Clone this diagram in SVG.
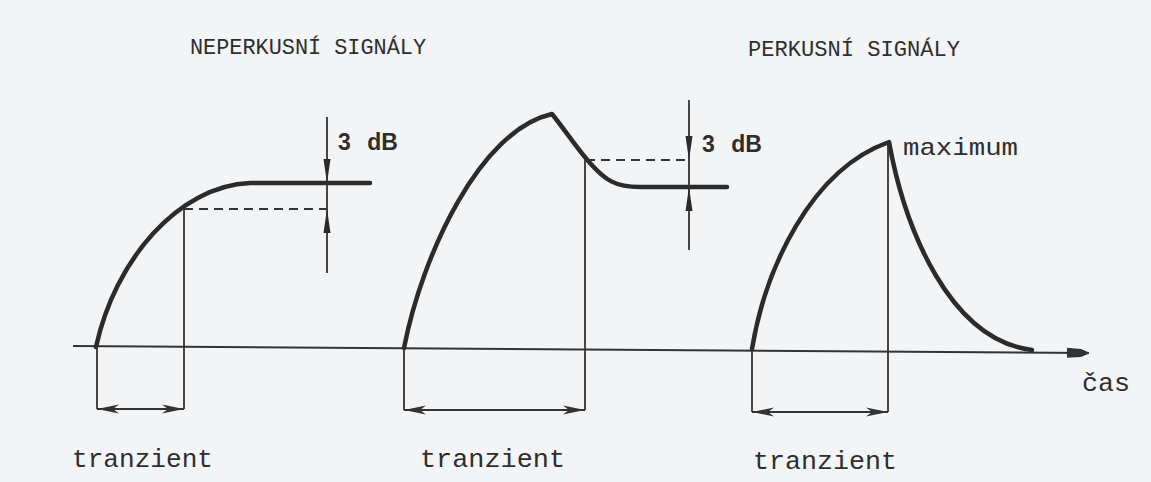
<svg xmlns="http://www.w3.org/2000/svg" width="1151" height="482" viewBox="0 0 1151 482">
<defs>
<style>
.mono{font-family:"Liberation Mono","DejaVu Sans Mono",monospace;fill:#2e2e2e}
.sans{font-family:"Liberation Sans",Arial,sans-serif;fill:#2e2e2e;font-weight:bold}
.curve{fill:none;stroke:#2b2b2b;stroke-width:4.5;stroke-linecap:round;stroke-linejoin:round}
.thin{fill:none;stroke:#333;stroke-width:1.8}
.dash{fill:none;stroke:#333;stroke-width:2;stroke-dasharray:9 6}
.dim{fill:none;stroke:#333;stroke-width:2}
</style>
<marker id="dimArrow" viewBox="0 -5 22 10" refX="22" refY="0" markerWidth="22" markerHeight="10" markerUnits="userSpaceOnUse" orient="auto-start-reverse">
<path d="M22,0 L0,-4.5 L6,0 L0,4.5 z" fill="#333"/>
</marker>
<marker id="axisArrow" viewBox="0 -6 22 12" refX="22" refY="0" markerWidth="22" markerHeight="12" markerUnits="userSpaceOnUse" orient="auto">
<path d="M0,-5 L14,-4 Q22,-1 22,0 Q22,1 14,4 L0,5 z" fill="#333"/>
</marker>
<marker id="dbArrow" viewBox="0 -4 24 8" refX="24" refY="0" markerWidth="24" markerHeight="8" markerUnits="userSpaceOnUse" orient="auto">
<path d="M0,-3.5 L24,0 L0,3.5 z" fill="#2b2b2b"/>
</marker>
</defs>
<rect width="1151" height="482" fill="#f3f4f5"/>

<g id="titles">
<text class="mono" x="190" y="54" font-size="22" textLength="236" lengthAdjust="spacingAndGlyphs">NEPERKUSNÍ SIGNÁLY</text>
<text class="mono" x="748" y="56" font-size="22" textLength="212" lengthAdjust="spacingAndGlyphs">PERKUSNÍ SIGNÁLY</text>
</g>

<g id="axis">
<line x1="73" y1="346" x2="1089" y2="353" stroke="#333" stroke-width="2.2" marker-end="url(#axisArrow)"/>
<text class="mono" x="1082" y="391" font-size="25" textLength="48" lengthAdjust="spacingAndGlyphs">čas</text>
</g>

<g id="signal-nonpercussive-1">
<path class="curve" d="M96,347 C115,260 178,186 250,183 H370"/>
<line class="dash" x1="184" y1="209" x2="327" y2="209"/>
<line class="thin" x1="327" y1="117" x2="327" y2="273"/>
<line x1="327" y1="155" x2="327" y2="183" stroke="none" marker-end="url(#dbArrow)"/>
<line x1="327" y1="237" x2="327" y2="209" stroke="none" marker-end="url(#dbArrow)"/>
<text class="sans" x="338" y="150" font-size="23" word-spacing="10">3 dB</text>
<line class="thin" x1="184" y1="209" x2="184" y2="409"/>
<line class="thin" x1="97" y1="347" x2="97" y2="409"/>
</g>

<g id="signal-nonpercussive-2">
<path class="curve" d="M404,348 C422,255 480,130 552,114 C565,130 578,150 590,163 C605,180 615,187 640,187 H727"/>
<line class="dash" x1="586" y1="160" x2="689" y2="160"/>
<line class="thin" x1="689" y1="100" x2="689" y2="250"/>
<line x1="689" y1="134" x2="689" y2="160" stroke="none" marker-end="url(#dbArrow)"/>
<line x1="689" y1="212" x2="689" y2="187" stroke="none" marker-end="url(#dbArrow)"/>
<text class="sans" x="702" y="152" font-size="23" word-spacing="10">3 dB</text>
<line class="thin" x1="585" y1="160" x2="585" y2="410"/>
<line class="thin" x1="404" y1="348" x2="404" y2="410"/>
</g>

<g id="signal-percussive">
<path class="curve" d="M752,349 C765,270 810,170 889,142 C905,230 950,340 1032,350"/>
<line class="thin" x1="888" y1="142" x2="888" y2="412"/>
<line class="thin" x1="752" y1="349" x2="752" y2="412"/>
<text class="mono" x="903" y="155" font-size="24" textLength="115" lengthAdjust="spacingAndGlyphs">maximum</text>
</g>

<g id="connectors">
<line class="dim" x1="97" y1="409" x2="184" y2="409" marker-start="url(#dimArrow)" marker-end="url(#dimArrow)"/>
<line class="dim" x1="404" y1="410" x2="585" y2="410" marker-start="url(#dimArrow)" marker-end="url(#dimArrow)"/>
<line class="dim" x1="752" y1="412" x2="888" y2="412" marker-start="url(#dimArrow)" marker-end="url(#dimArrow)"/>
</g>

<g id="labels">
<text class="mono" x="72" y="467" font-size="25" textLength="141" lengthAdjust="spacingAndGlyphs">tranzient</text>
<text class="mono" x="420" y="467" font-size="25" textLength="145" lengthAdjust="spacingAndGlyphs">tranzient</text>
<text class="mono" x="753" y="469" font-size="25" textLength="144" lengthAdjust="spacingAndGlyphs">tranzient</text>
</g>
</svg>
